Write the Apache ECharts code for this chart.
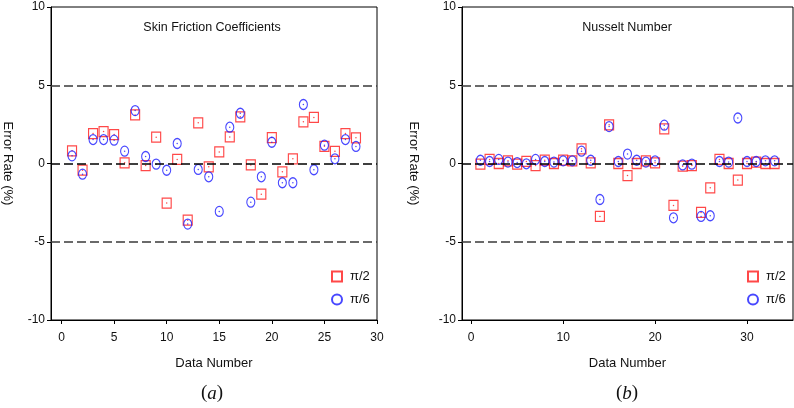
<!DOCTYPE html>
<html>
<head>
<meta charset="utf-8">
<script src="https://cdn.jsdelivr.net/npm/echarts@6/dist/echarts.min.js"></script>
<style>
html, body { margin: 0; padding: 0; background: #fff; }
#main { width: 794px; height: 408px; }
</style>
</head>
<body>
<div id="main"></div>
<script>
// (a) skin friction coefficients, error rate (%)
var skinNo = [1, 2, 3, 4, 5, 6, 7, 8, 9, 10, 11, 12, 13, 14, 15, 16, 17, 18, 19, 20, 21, 22, 23, 24, 25, 26, 27, 28];
var skinHalf = [0.81, -0.43, 1.91, 2.04, 1.85, 0.04, 3.10, -0.13, 1.68, -2.53, 0.26, -3.62, 2.60, -0.21, 0.74, 1.70, 2.98, -0.09, -1.96, 1.66, -0.53, 0.30, 2.66, 2.94, 1.10, 0.78, 1.91, 1.64];
var skinSixth = [0.49, -0.68, 1.53, 1.53, 1.49, 0.79, 3.38, 0.45, -0.04, -0.43, 1.28, -3.87, -0.38, -0.85, -3.06, 2.32, 3.21, -2.47, -0.85, 1.36, -1.23, -1.23, 3.77, -0.40, 1.17, 0.30, 1.53, 1.09];

// (b) Nusselt number, error rate (%)
var nuNo = [1, 2, 3, 4, 5, 6, 7, 8, 9, 10, 11, 12, 13, 14, 15, 16, 17, 18, 19, 20, 21, 22, 23, 24, 25, 26, 27, 28, 29, 30, 31, 32, 33];
var nuHalf = [-0.04, 0.26, 0.00, 0.17, -0.04, 0.13, -0.13, 0.21, 0.00, 0.21, 0.17, 0.94, 0.04, -3.38, 2.47, 0.00, -0.77, 0.00, 0.17, 0.04, 2.21, -2.68, -0.17, -0.13, -3.13, -1.55, 0.26, 0.00, -1.06, 0.00, 0.09, 0.00, 0.00];
var nuSixth = [0.21, 0.13, 0.26, 0.09, 0.06, -0.02, 0.26, 0.13, 0.09, 0.17, 0.17, 0.79, 0.21, -2.30, 2.36, 0.13, 0.60, 0.21, 0.09, 0.17, 2.45, -3.47, -0.09, -0.04, -3.38, -3.34, 0.13, 0.09, 2.91, 0.13, 0.13, 0.17, 0.17];

var skinTicks = [0, 5, 10, 15, 20, 25, 30];
var nuTicks = [0, 10, 20, 30];
var refLines = [5, 0, -5];

var myChart = echarts.init(document.getElementById('main'));
var font = '"Liberation Sans Narrow", "Liberation Sans", Arial, sans-serif';
var ellipse = 'path://M0,-1A1,1 0 1,1 0,1A1,1 0 1,1 0,-1z';

function pts(xs, ys) {
    return xs.map(function (x, i) { return [x, ys[i]]; });
}

function xAxis(gi, max, ticks) {
    return {
        type: 'value', gridIndex: gi, min: -1, max: max,
        name: 'Data Number', nameLocation: 'middle', nameGap: 37,
        nameTextStyle: { fontFamily: font, fontSize: 13, color: '#111' },
        axisLine: { onZero: false, lineStyle: { color: '#000', width: 1 } },
        axisTick: { customValues: ticks, length: 4, lineStyle: { color: '#000' } },
        axisLabel: { customValues: ticks, margin: 12, fontFamily: font, fontSize: 12, color: '#111' },
        splitLine: { show: false }
    };
}

function yAxis(gi, gap) {
    return {
        type: 'value', gridIndex: gi, min: -10, max: 10, interval: 5,
        name: 'Error Rate (%)', nameLocation: 'middle', nameRotate: -90, nameGap: gap,
        nameTextStyle: { fontFamily: font, fontSize: 13, color: '#111' },
        axisLine: { show: true, onZero: false, lineStyle: { color: '#000', width: 1 } },
        axisTick: { show: true, length: 4, lineStyle: { color: '#000' } },
        axisLabel: { margin: 6, fontFamily: font, fontSize: 12, color: '#111' },
        splitLine: { show: false }
    };
}

function markers(gi, xs, half, sixth) {
    var dash = {
        silent: true, symbol: 'none', label: { show: false },
        lineStyle: { type: [9, 4], width: 1.5, color: '#333' },
        data: refLines.map(function (v) {
            return { yAxis: v, lineStyle: { color: v === 0 ? '#000' : '#3a3a3a' } };
        })
    };
    return [
        {
            name: 'π/2', type: 'scatter', xAxisIndex: gi, yAxisIndex: gi,
            data: pts(xs, half), symbol: 'rect', symbolSize: [9, 10],
            itemStyle: { color: 'rgba(255,255,255,0)', borderColor: '#ff1a1a', borderWidth: 1.2 },
            markLine: dash, z: 2
        },
        {
            name: 'dot2', type: 'scatter', xAxisIndex: gi, yAxisIndex: gi, silent: true,
            data: pts(xs, half), symbol: 'circle', symbolSize: 1.5,
            itemStyle: { color: '#ff1a1a' }, z: 2
        },
        {
            name: 'π/6', type: 'scatter', xAxisIndex: gi, yAxisIndex: gi,
            data: pts(xs, sixth), symbol: ellipse, symbolSize: [8, 10],
            itemStyle: { color: 'rgba(255,255,255,0)', borderColor: '#1a1aff', borderWidth: 1.2 },
            z: 3
        },
        {
            name: 'dot6', type: 'scatter', xAxisIndex: gi, yAxisIndex: gi, silent: true,
            data: pts(xs, sixth), symbol: 'circle', symbolSize: 1.5,
            itemStyle: { color: '#1a1aff' }, z: 3
        }
    ];
}

function legend(left) {
    return {
        data: ['π/2', 'π/6'], orient: 'vertical', left: left, top: 265,
        itemWidth: 10, itemHeight: 10, itemGap: 10, selectedMode: false,
        textStyle: { fontFamily: font, fontSize: 13, color: '#111', padding: [0, 0, 0, 3] }
    };
}

function label(text, x, y, size, fam) {
    return {
        text: text, left: x, top: y, textAlign: 'center', padding: 0,
        textStyle: {
            fontFamily: fam, fontSize: size, fontWeight: 'normal', color: '#111',
            rich: { i: { fontStyle: 'italic', fontFamily: fam, fontSize: size, color: '#111' } }
        }
    };
}

var option = {
    animation: false,
    backgroundColor: '#fff',
    title: [
        label('Skin Friction Coefficients', 212, 21, 12.5, font),
        label('Nusselt Number', 627, 21, 12.5, font),
        label('({i|a})', 212, 384, 19, '"Liberation Serif", serif'),
        label('({i|b})', 627, 384, 19, '"Liberation Serif", serif')
    ],
    legend: [legend(326), legend(742)],
    grid: [
        { left: 46, top: 7, width: 331, height: 313, show: true, borderColor: '#000', borderWidth: 1, backgroundColor: 'transparent' },
        { left: 462, top: 7, width: 331, height: 313, show: true, borderColor: '#000', borderWidth: 1, backgroundColor: 'transparent' }
    ],
    xAxis: [xAxis(0, 30, skinTicks), xAxis(1, 35, nuTicks)],
    yAxis: [yAxis(0, 37), yAxis(1, 42)],
    series: markers(0, skinNo, skinHalf, skinSixth).concat(markers(1, nuNo, nuHalf, nuSixth))
};

myChart.setOption(option);
window.addEventListener('resize', function () {
    myChart.resize();
});
</script>
</body>
</html>
